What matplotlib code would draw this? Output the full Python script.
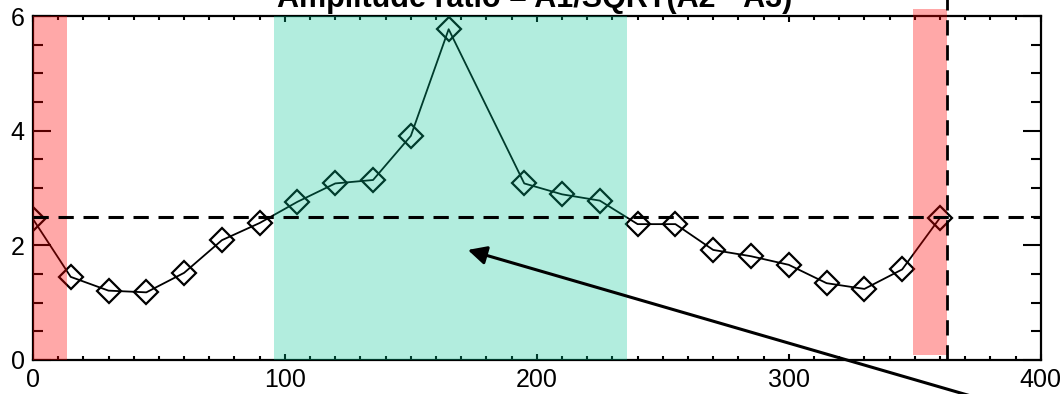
import numpy as np
import matplotlib
matplotlib.use("Agg")
import matplotlib.pyplot as plt
from matplotlib.patches import Rectangle
from matplotlib.ticker import MultipleLocator

plt.rcParams['font.family'] = ['Liberation Sans', 'DejaVu Sans']
plt.rcParams['lines.scale_dashes'] = False

# phase angle (deg) and amplitude ratio
angle = [0, 15, 30, 45, 60, 75, 90, 105, 120, 135, 150, 165,
         195, 210, 225, 240, 255, 270, 285, 300, 315, 330, 345, 360]
ratio = [2.46, 1.45, 1.21, 1.18, 1.52, 2.09, 2.39, 2.76, 3.08, 3.14, 3.91, 5.77,
         3.08, 2.89, 2.78, 2.37, 2.37, 1.92, 1.81, 1.66, 1.34, 1.24, 1.58, 2.48]

level = 2.49
green_band = (95.6, 235.7)
red_band_left = (0.0, 13.5)
red_band_right = (349.2, 362.7)
cut_angle = 362.7
arrow_tip = (172.6, 1.92)
arrow_tail = (374.0, -0.65)

fig = plt.figure(figsize=(10.62, 3.94), dpi=100)
ax = fig.add_axes([0.031, 0.0863, 0.949, 0.873])

ax.plot(angle, ratio, color='k', lw=1.3, marker='D', ms=12.5,
        mfc='none', mec='k', mew=1.6, zorder=2)

# shaded regions sit on top of the curve
ax.axvspan(*green_band, color=(0, 198/255, 148/255), alpha=0.3, lw=0, zorder=3)
ax.axvspan(*red_band_left, color=(1, 0, 0), alpha=0.34, lw=0, zorder=3)
ax.add_patch(Rectangle((red_band_right[0], 0.09), red_band_right[1] - red_band_right[0], 6.04,
                       color=(1, 0, 0), alpha=0.34, lw=0, zorder=3, clip_on=False))

ax.axhline(level, color='k', lw=2.2, ls=(0, (11, 7)), zorder=4)
ax.plot([cut_angle, cut_angle], [0, 6.5], color='k', lw=2.0, ls=(0, (11, 7)),
        zorder=4, clip_on=False)

ax.annotate('', xy=arrow_tip, xytext=arrow_tail, annotation_clip=False,
            arrowprops=dict(arrowstyle='-|>', lw=2.2, color='k', mutation_scale=28,
                            shrinkA=0, shrinkB=0), zorder=5)

ax.set_xlim(0, 400)
ax.set_ylim(0, 6)
ax.xaxis.set_major_locator(MultipleLocator(100))
ax.xaxis.set_minor_locator(MultipleLocator(10))
ax.yaxis.set_major_locator(MultipleLocator(2))
ax.yaxis.set_minor_locator(MultipleLocator(0.5))
ax.tick_params(axis='both', which='both', direction='in', top=True, right=True,
               labelsize=18, width=1.5, pad=6)
ax.tick_params(axis='x', which='major', length=4.5)
ax.tick_params(axis='x', which='minor', length=2.6)
ax.tick_params(axis='y', which='major', length=13)
ax.tick_params(axis='y', which='minor', length=7)
for s in ax.spines.values():
    s.set_linewidth(1.6)

ylabels = ax.get_yticklabels()
ylabels[0].set_va('baseline')
ylabels[-1].set_va('top')

# title runs off the top edge, only its lower part shows
fig.text(0.503, 1 - 7 / 394, 'Amplitude ratio = A1/SQRT(A2 * A3)', ha='center',
         va='baseline', fontsize=22, fontweight='bold')

fig.savefig('out.png', dpi=100)
